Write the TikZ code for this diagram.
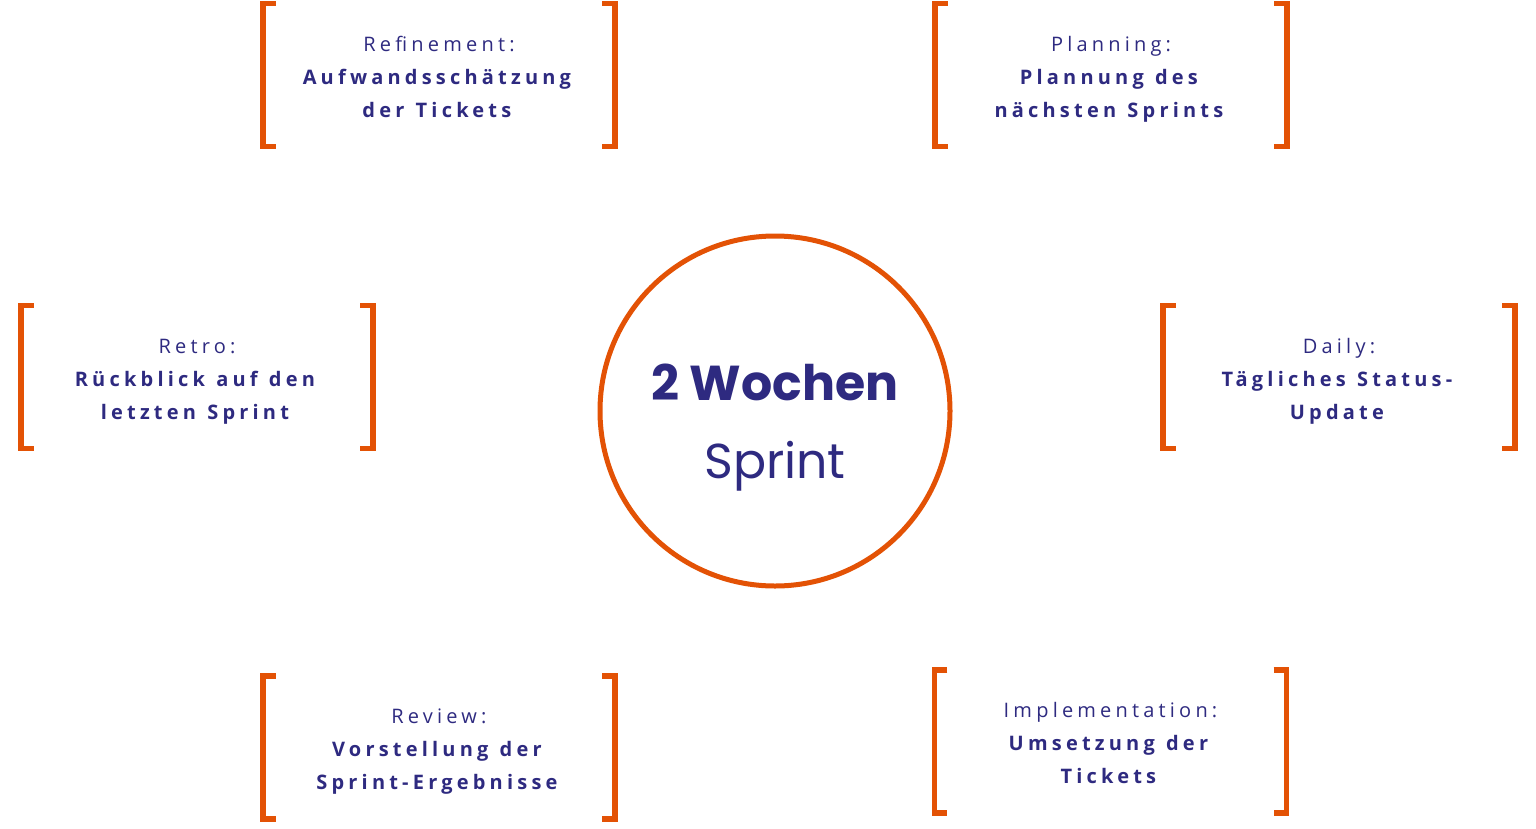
\documentclass[tikz,border=0pt]{standalone}
\usepackage{fontspec}
\setmainfont{Open Sans}
\newfontfamily\phasefont{Open Sans}[LetterSpace=21,WordSpace=1.2]
\newfontfamily\ringfont{Poppins}
\definecolor{sprintorange}{HTML}{E35205}
\definecolor{sprintnavy}{HTML}{2E2A80}
\begin{document}
\begin{tikzpicture}[x=1pt, y=-1pt,
      phase/.style={minimum width=352pt, minimum height=143pt, inner sep=0pt,
                    align=center, text=sprintnavy, text height=84pt, text depth=0pt,
                    font=\phasefont\fontsize{20}{33}\selectfont},
      brk/.style={draw=sprintorange, line width=5.5pt, line join=miter},
      ring/.style={circle, draw=sprintorange, line width=5pt, minimum size=350pt,
                   inner sep=0pt, align=center, text=sprintnavy,
                   text height=134pt, text depth=0pt,
                   font=\ringfont\fontsize{49}{78}\selectfont}]
    \useasboundingbox (0,0) rectangle (1536,828);
    % center circle
    \node[ring] (sprint) at (775,411)
      {{\fontsize{49}{78}\selectfont\bfseries 2 Wochen}\\Sprint};
    % the six meetings
    \node[phase] (refine) at (439,75)
      {Refinement:\\\textbf{Aufwandsschätzung}\\\textbf{der Tickets}};
    \node[phase] (plan) at (1111,75)
      {Planning:\\\textbf{Plannung des}\\\textbf{nächsten Sprints}};
    \node[phase] (retro) at (197,377)
      {Retro:\\\textbf{Rückblick auf den}\\\textbf{letzten Sprint}};
    \node[phase] (daily) at (1339,377)
      {Daily:\\\textbf{Tägliches Status-}\\\textbf{Update}};
    \node[phase] (review) at (439,747.5)
      {Review:\\\textbf{Vorstellung der}\\\textbf{Sprint-Ergebnisse}};
    \node[phase] (impl) at (1110.5,741.5)
      {Implementation:\\\textbf{Umsetzung der}\\\textbf{Tickets}};
    % brackets
    \foreach \n in {refine,plan,retro,daily,review,impl} {
      \draw[brk] ([xshift=13pt]\n.north west) -- (\n.north west)
        -- (\n.south west) -- ([xshift=13pt]\n.south west);
      \draw[brk] ([xshift=-13pt]\n.north east) -- (\n.north east)
        -- (\n.south east) -- ([xshift=-13pt]\n.south east);
    }
  \end{tikzpicture}
\end{document}
